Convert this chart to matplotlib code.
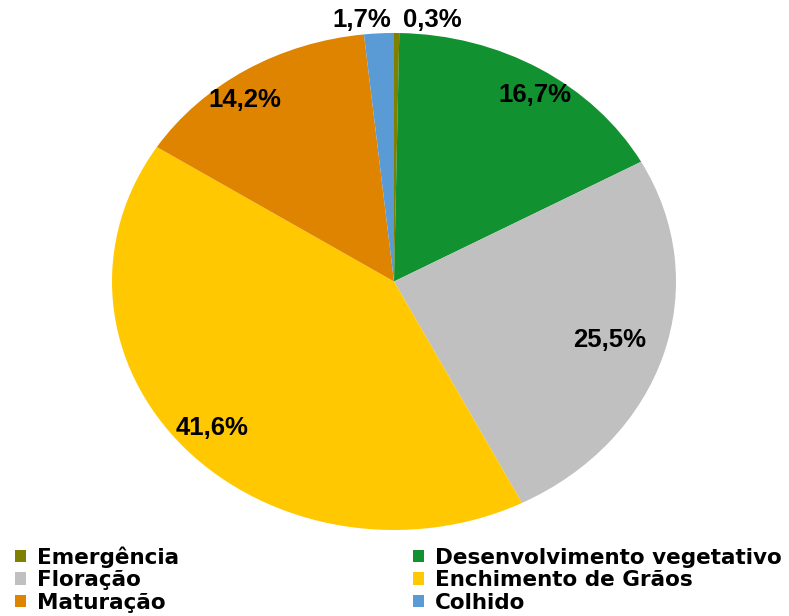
import matplotlib
matplotlib.use('Agg')
import matplotlib.pyplot as plt
from matplotlib.patches import Patch

# data
stages = ['Emergência', 'Desenvolvimento vegetativo', 'Floração',
          'Enchimento de Grãos', 'Maturação', 'Colhido']
shares = [0.3, 16.7, 25.5, 41.6, 14.2, 1.7]
colors = ['#7f7f00', '#119130', '#c0c0c0', '#ffc800', '#df8400', '#5b9bd5']

# label centres in axes data units (pie radius = 1)
label_pos = [(0.135, 1.052), (0.50, 0.75), (0.766, -0.235),
             (-0.645, -0.59), (-0.528, 0.73), (-0.113, 1.052)]

fig = plt.figure(figsize=(7.89, 6.16), dpi=100)
ax = fig.add_axes([112 / 789, 86 / 616, 564 / 789, 497 / 616])

wedges, texts, autotexts = ax.pie(
    shares, colors=colors, startangle=90, counterclock=False,
    autopct=lambda p: f'{p:.1f}%'.replace('.', ','),
    textprops=dict(family='Liberation Sans', weight='bold', fontsize=18.5, color='black'))
ax.set_aspect('auto')
ax.set_xlim(-1, 1)
ax.set_ylim(-1, 1)
ax.axis('off')

for t, (x, y) in zip(autotexts, label_pos):
    t.set_position((x, y))
    t.set_ha('center')
    t.set_va('center')
    t.set_clip_on(False)

# legend, filled column by column
order = [0, 2, 4, 1, 3, 5]
handles = [Patch(facecolor=colors[i], edgecolor='none') for i in order]
labels = [stages[i] for i in order]
fig.legend(handles, labels, ncol=2, loc='upper left',
           bbox_to_anchor=(15 / 789, 1 - 546 / 616),
           frameon=False, prop=dict(family='DejaVu Sans', weight='bold', size=15.5),
           handlelength=0.5, handleheight=0.5, handletextpad=0.5,
           labelspacing=0.12, columnspacing=10.9, borderaxespad=0, borderpad=0)

fig.savefig('out.png', dpi=100)
